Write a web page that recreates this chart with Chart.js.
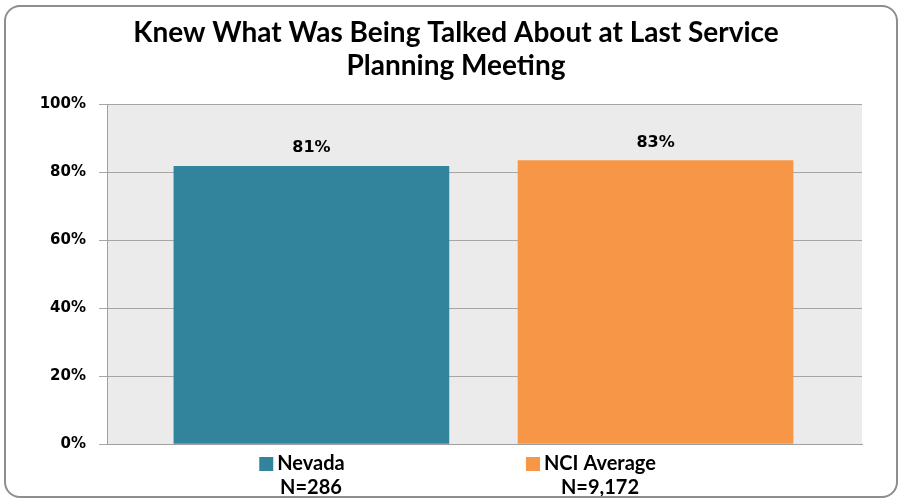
<!DOCTYPE html>
<html>
<head>
<meta charset="utf-8">
<script src="https://cdn.jsdelivr.net/npm/chart.js@4"></script>
<style>
  body { margin: 0; background: #fff; }
  #wrap { position: relative; width: 902px; height: 501px; }
  #frame {
    position: absolute; left: 4px; top: 5px; width: 890px; height: 489px;
    border: 2px solid #8e8e8e; border-radius: 16px; pointer-events: none;
  }
</style>
</head>
<body>
<div id="wrap">
  <canvas id="chart" width="902" height="501"></canvas>
  <div id="frame"></div>
</div>
<script>
const categories = ["Nevada", "NCI Average"];
const sampleSizes = ["N=286", "N=9,172"];
const percentValues = [81.7, 83.4];
const valueLabels = ["81%", "83%"];
const barColors = ["#31849b", "#f79646"];
const yTicks = [0, 20, 40, 60, 80, 100];

const plotBackground = {
  id: "plotBackground",
  beforeDraw(chart) {
    const { ctx, chartArea } = chart;
    ctx.save();
    ctx.fillStyle = "#ebebeb";
    ctx.fillRect(chartArea.left, chartArea.top, chartArea.right - chartArea.left, chartArea.bottom - chartArea.top);
    ctx.restore();
  },
};

// value labels above bars + colour squares next to category names
const extras = {
  id: "extras",
  afterDraw(chart) {
    const ctx = chart.ctx;
    const meta = chart.getDatasetMeta(0);
    ctx.save();
    ctx.fillStyle = "#000";
    ctx.font = "bold 16px 'DejaVu Sans'";
    ctx.textAlign = "center";
    ctx.textBaseline = "middle";
    meta.data.forEach((bar, i) => {
      ctx.fillText(valueLabels[i], bar.x, bar.y - 18);
    });

    const lab = chart.scales.xLabels;
    ctx.font = "bold 20px Lato";
    categories.forEach((name, i) => {
      const x = lab.getPixelForValue(i);
      const w = ctx.measureText(name).width;
      ctx.fillStyle = barColors[i];
      ctx.fillRect(x - w / 2 - 18, 457, 14, 14);
    });
    ctx.restore();
  },
};

new Chart(document.getElementById("chart"), {
  type: "bar",
  data: {
    datasets: [
      {
        data: percentValues.map((v, i) => ({ x: i, y: v })),
        backgroundColor: barColors,
        borderWidth: 0,
        barThickness: 275,
        xAxisID: "x",
      },
    ],
  },
  options: {
    responsive: false,
    animation: false,
    layout: { padding: { left: 10, right: 0, top: 0, bottom: 0 } },
    plugins: {
      legend: { display: false },
      tooltip: { enabled: false },
      title: {
        display: true,
        text: ["Knew What Was Being Talked About at Last Service", "Planning Meeting"],
        color: "#000",
        font: { family: "Lato", size: 28, weight: "bold", lineHeight: 1.18 },
        padding: { top: 16, bottom: 22 },
      },
    },
    scales: {
      x: {
        type: "linear",
        display: false,
        offset: false,
        min: -0.594,
        max: 1.6,
      },
      xLabels: {
        type: "linear",
        position: "bottom",
        offset: false,
        min: -0.706,
        max: 1.907,
        grid: { display: false },
        border: { display: true, color: "#a0a0a0", width: 1 },
        afterBuildTicks(scale) {
          scale.ticks = categories.map((c, i) => ({ value: i }));
        },
        afterFit(scale) {
          scale.height = 57;
        },
        ticks: {
          padding: 0,
          color: "#000",
          maxRotation: 0,
          autoSkip: false,
          font: { family: "Lato", size: 20, weight: "bold", lineHeight: 1.2 },
          callback: (v, i) => [categories[i], sampleSizes[i]],
        },
      },
      y: {
        min: 0,
        max: 100,
        afterBuildTicks(scale) {
          scale.ticks = yTicks.map((v) => ({ value: v }));
        },
        afterFit(scale) {
          scale.width = 97;
        },
        grid: { color: "#a6a6a6", lineWidth: 1, tickLength: 8 },
        border: { display: true, color: "#a0a0a0", width: 1 },
        ticks: {
          padding: 13,
          color: "#000",
          font: { family: "DejaVu Sans", size: 15, weight: "bold" },
          callback: (v) => v + "%",
        },
      },
      // empty right-hand axis: keeps the white margin right of the plot
      yRight: {
        type: "linear",
        position: "right",
        min: 0,
        max: 100,
        grid: { display: false, drawOnChartArea: false },
        border: { display: false },
        ticks: { display: false },
        afterFit(scale) {
          scale.width = 40;
        },
      },
    },
  },
  plugins: [plotBackground, extras],
});
</script>
</body>
</html>
